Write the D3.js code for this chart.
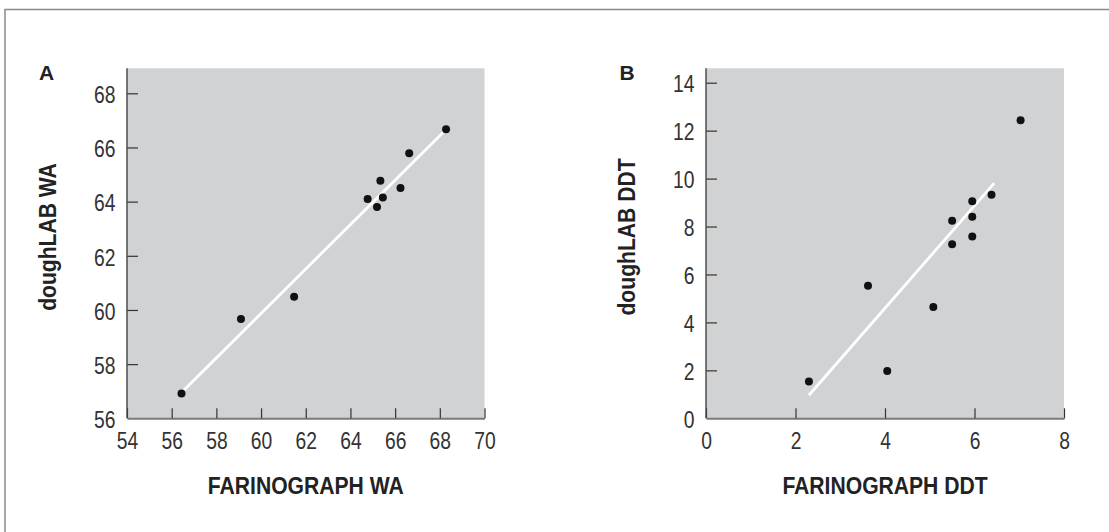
<!DOCTYPE html>
<html lang="en">
<head>
    <meta charset="UTF-8">
    <title>doughLAB vs Farinograph</title>
    <script src="https://cdn.jsdelivr.net/npm/d3@7/dist/d3.min.js"></script>
    <style>
        body { margin: 0; background: #fff; }
        .tick text { font-family: "Liberation Sans", Arial, sans-serif; font-size: 23px; fill: #333; }
        .ttl { font-family: "Liberation Sans", Arial, sans-serif; font-size: 24px; font-weight: bold; fill: #222; }
        .lbl { font-family: "Liberation Sans", Arial, sans-serif; font-size: 21px; font-weight: bold; fill: #222; }
    </style>
</head>
<body>
<script>
    // panel A - water absorption
    var waFarino = [56.44, 59.1, 61.48, 64.77, 65.19, 65.34, 65.45, 66.24, 66.63, 68.28];
    var waDough  = [56.92, 59.67, 60.49, 64.1, 63.8, 64.77, 64.15, 64.5, 65.79, 66.67];
    var waFitX = [56.5, 68.2];
    var waFitY = [57.0, 66.6];
    var waXTicks = [54, 56, 58, 60, 62, 64, 66, 68, 70];
    var waYTicks = [56, 58, 60, 62, 64, 66, 68];

    // panel B - dough development time
    var ddtFarino = [2.3, 3.62, 4.05, 5.08, 5.5, 5.5, 5.95, 5.95, 5.95, 6.38, 7.03];
    var ddtDough  = [1.53, 5.53, 1.97, 4.64, 8.24, 7.26, 9.05, 8.41, 7.58, 9.33, 12.43];
    var ddtFitX = [2.3, 6.44];
    var ddtFitY = [0.96, 9.81];
    var ddtXTicks = [0, 2, 4, 6, 8];
    var ddtYTicks = [0, 2, 4, 6, 8, 10, 12, 14];

    var W = 1109, H = 532;
    var tickSqueeze = 0.84, titleSqueeze = 0.88;   // the original uses a condensed face

    var svg = d3.select("body").append("svg").attr("width", W).attr("height", H);

    // frame (open on right and bottom)
    svg.append("path")
        .attr("d", "M5," + H + " V9.5 H" + W)
        .attr("fill", "none").attr("stroke", "#8a8a8a").attr("stroke-width", 1.5);

    function panel(o) {
        var x = d3.scaleLinear().domain(o.xDom).range([o.left, o.right]);
        var y = d3.scaleLinear().domain(o.yDom).range([o.bottom, o.yTopTick]);

        svg.append("rect")
            .attr("x", o.left).attr("y", o.top)
            .attr("width", o.right - o.left).attr("height", o.bottom - o.top)
            .attr("fill", "#d1d2d4");

        var gx = svg.append("g").attr("transform", "translate(0," + o.bottom + ")")
            .call(d3.axisBottom(x).tickValues(o.xTicks).tickSizeInner(-10).tickSizeOuter(0).tickPadding(14));
        gx.select(".domain").attr("stroke", "#7a7a7a").attr("stroke-width", 2);
        gx.selectAll(".tick line").attr("stroke", "#333").attr("stroke-width", 1.2);
        gx.selectAll(".tick text")
            .attr("transform", "scale(" + tickSqueeze + ",1)");

        var gy = svg.append("g").attr("transform", "translate(" + o.left + ",0)")
            .call(d3.axisLeft(y).tickValues(o.yTicks).tickSizeInner(-11).tickSizeOuter(0));
        gy.select(".domain").remove();
        gy.append("line").attr("x1", 0).attr("x2", 0).attr("y1", o.top).attr("y2", o.bottom)
            .attr("stroke", "#444").attr("stroke-width", 1.4);
        gy.selectAll(".tick line").attr("stroke", "#333").attr("stroke-width", 1.2);
        gy.selectAll(".tick text")
            .attr("x", 0).attr("dy", "0.4em")
            .attr("transform", "translate(-11.5,0) scale(" + tickSqueeze + ",1)");
        // no tick mark at the corner
        gy.selectAll(".tick").filter(function(d) { return d === o.yDom[0]; }).select("line").remove();

        svg.append("line")
            .attr("x1", x(o.fitX[0])).attr("y1", y(o.fitY[0]))
            .attr("x2", x(o.fitX[1])).attr("y2", y(o.fitY[1]))
            .attr("stroke", "#fff").attr("stroke-width", 2.8);

        svg.selectAll(null).data(o.xs).enter().append("circle")
            .attr("cx", function(d) { return x(d); })
            .attr("cy", function(d, i) { return y(o.ys[i]); })
            .attr("r", 4).attr("fill", "#111");

        svg.append("text").attr("class", "ttl")
            .attr("transform", "translate(" + ((o.left + o.right) / 2) + ",494) scale(" + titleSqueeze + ",1)")
            .attr("text-anchor", "middle").text(o.xTitle);
        svg.append("text").attr("class", "ttl")
            .attr("transform", "translate(" + o.yTitleX + ",237) rotate(-90) scale(" + titleSqueeze + ",1)")
            .attr("text-anchor", "middle").text(o.yTitle);
        svg.append("text").attr("class", "lbl")
            .attr("x", o.lblX).attr("y", 80).text(o.lbl);
    }

    panel({
        xs: waFarino, ys: waDough, fitX: waFitX, fitY: waFitY,
        xDom: [54, 70], yDom: [56, 68], xTicks: waXTicks, yTicks: waYTicks,
        left: 127, right: 484.5, top: 68.3, bottom: 418.3, yTopTick: 93.3,
        xTitle: "FARINOGRAPH WA", yTitle: "doughLAB WA", yTitleX: 56, lbl: "A", lblX: 39
    });

    panel({
        xs: ddtFarino, ys: ddtDough, fitX: ddtFitX, fitY: ddtFitY,
        xDom: [0, 8], yDom: [0, 14], xTicks: ddtXTicks, yTicks: ddtYTicks,
        left: 706, right: 1064, top: 68.3, bottom: 418.3, yTopTick: 82.7,
        xTitle: "FARINOGRAPH DDT", yTitle: "doughLAB DDT", yTitleX: 635, lbl: "B", lblX: 619.5
    });
</script>
</body>
</html>
